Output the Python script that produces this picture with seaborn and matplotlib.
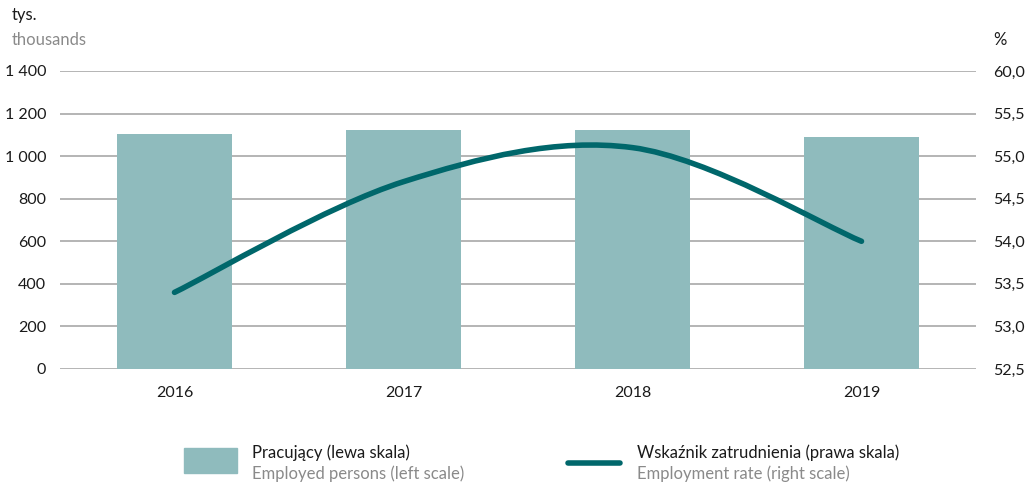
import numpy as np
import pandas as pd
import matplotlib
matplotlib.use('Agg')
import matplotlib.pyplot as plt
import seaborn as sns
from matplotlib.path import Path
from matplotlib.patches import PathPatch
from matplotlib.lines import Line2D

years = ['2016', '2017', '2018', '2019']
employed = [1104, 1123, 1122, 1090]          # tys. / thousands
rate = [53.4, 54.7, 55.1, 54.0]              # %

left_ticks = [0, 200, 400, 600, 800, 1000, 1200, 1400]
left_labels = ['0', '200', '400', '600', '800', '1 000', '1 200', '1 400']
right_ticks = [52.5, 53.0, 53.5, 54.0, 54.5, 55.0, 55.5, 56.0]
right_labels = ['52,5', '53,0', '53,5', '54,0', '54,5', '55,0', '55,5', '60,0']

BAR = '#8fbbbd'
LINE = '#00676b'
GRID = '#a8a8a8'
DARK = '#1a1a1a'
GREY = '#8a8a8a'
FS = 12
TFS = 11.5

sns.set_style('white')
plt.rcParams['font.family'] = ['Lato', 'DejaVu Sans']

df = pd.DataFrame({'year': years, 'employed': employed, 'rate': rate})

fig = plt.figure(figsize=(10.25, 4.99), dpi=100)
ax = fig.add_axes([60 / 1025, 1 - 369 / 499, 916 / 1025, 298 / 499])

sns.barplot(data=df, x='year', y='employed', color=BAR, width=0.5,
            saturation=1, linewidth=0, ax=ax, zorder=2)
ax.set_xlim(-0.5, 3.5)
ax.set_ylim(0, 1400)
ax.set_yticks(left_ticks)
ax.set_yticklabels(left_labels)
ax.yaxis.grid(True, color=GRID, linewidth=1.2, zorder=0)
ax.set_axisbelow(True)
for s in ax.spines.values():
    s.set_visible(False)
ax.set_xlabel('')
ax.set_ylabel('')
ax.tick_params(axis='y', length=0, labelsize=TFS, colors=DARK, pad=10)
ax.tick_params(axis='x', length=0, labelsize=TFS, colors=DARK, pad=12)

ax2 = ax.twinx()
ax2.set_ylim(52.5, 56.0)
ax2.set_yticks(right_ticks)
ax2.set_yticklabels(right_labels)
ax2.tick_params(axis='y', length=0, labelsize=TFS, colors=DARK, pad=12)
for s in ax2.spines.values():
    s.set_visible(False)

# smooth curve through the data points (Catmull-Rom as cubic Bezier)
xs = np.arange(len(rate), dtype=float)
ys = np.array(rate)
verts = [(xs[0], ys[0])]
codes = [Path.MOVETO]
for i in range(len(xs) - 1):
    x0, y0 = (xs[i - 1], ys[i - 1]) if i > 0 else (xs[i], ys[i])
    x3, y3 = (xs[i + 2], ys[i + 2]) if i + 2 < len(xs) else (xs[i + 1], ys[i + 1])
    c1 = (xs[i] + (xs[i + 1] - x0) / 6, ys[i] + (ys[i + 1] - y0) / 6)
    c2 = (xs[i + 1] - (x3 - xs[i]) / 6, ys[i + 1] - (y3 - ys[i]) / 6)
    verts += [c1, c2, (xs[i + 1], ys[i + 1])]
    codes += [Path.CURVE4] * 3
ax2.add_patch(PathPatch(Path(verts, codes), facecolor='none', edgecolor=LINE,
                        linewidth=4, capstyle='round', joinstyle='round', zorder=3))

fig.text(12 / 1025, 1 - 15 / 499, 'tys.', fontsize=FS, color=DARK, va='center')
fig.text(12 / 1025, 1 - 40 / 499, 'thousands', fontsize=FS, color=GREY, va='center')
fig.text(993 / 1025, 1 - 40 / 499, '%', fontsize=FS, color=DARK, va='center')

# legend
lax = fig.add_axes([0, 0, 1, 0.14])
lax.set_xlim(0, 1025)
lax.set_ylim(70, 0)
lax.axis('off')
lax.add_patch(plt.Rectangle((184, 19), 53, 25, color=BAR))
lax.add_line(Line2D([568, 620], [34, 34], color=LINE, linewidth=4, solid_capstyle='round'))
lax.text(252, 24, 'Pracujący (lewa skala)', fontsize=FS, color=DARK, va='center')
lax.text(252, 45, 'Employed persons (left scale)', fontsize=FS, color=GREY, va='center')
lax.text(637, 24, 'Wskaźnik zatrudnienia (prawa skala)', fontsize=FS, color=DARK, va='center')
lax.text(637, 45, 'Employment rate (right scale)', fontsize=FS, color=GREY, va='center')

fig.savefig('out.png', dpi=100)
